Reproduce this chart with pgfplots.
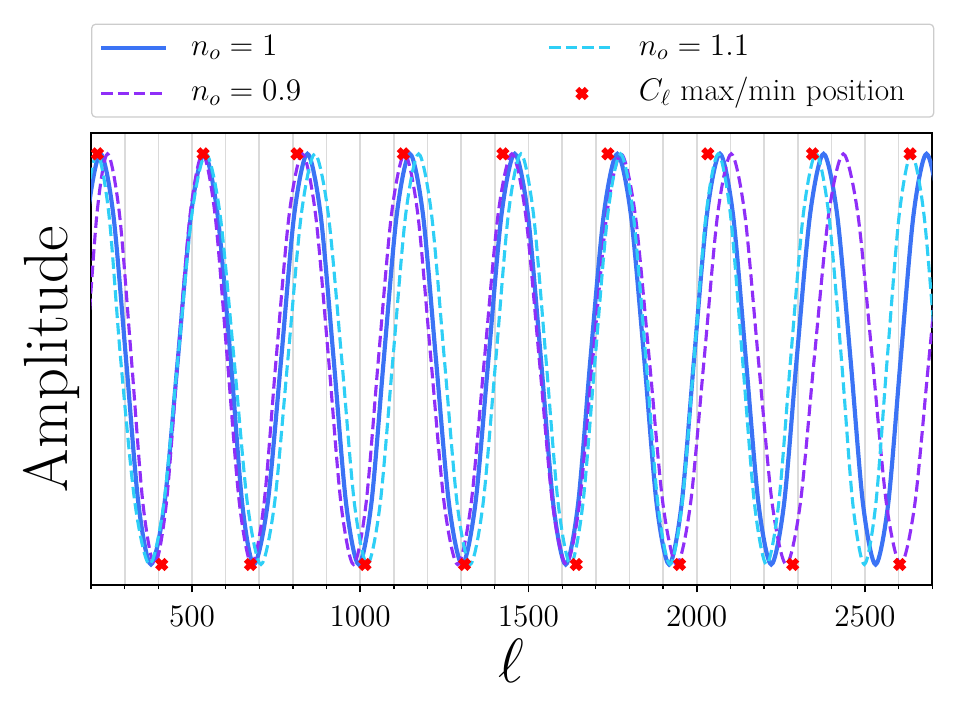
\RequirePackage{fix-cm}
\documentclass[border=0pt]{standalone}
\usepackage{fontspec}
\usepackage{pgfplots}
\pgfplotsset{compat=1.18}

\definecolor{nblue}{HTML}{3B73F5}
\definecolor{npurple}{HTML}{8F2EF8}
\definecolor{ncyan}{HTML}{2ECFF6}

\pgfplotsset{
  linelegend/.style={legend image code/.code={\draw[##1] (0pt,0pt) -- (31.2pt,0pt);}},
  marklegend/.style={legend image code/.code={\draw[##1] plot coordinates {(15.6pt,0pt)};}},
}

\begin{document}
\begin{tikzpicture}
\path[use as bounding box] (0,0) rectangle (460.8pt,345.6pt);
\begin{axis}[
  at={(43.7pt,64.8pt)}, anchor=south west,
  scale only axis, width=403.8pt, height=216.8pt,
  xmin=200, xmax=2700, ymin=-1.1, ymax=1.1,
  xtick={500,1000,1500,2000,2500},
  minor xtick={200,300,...,2700},
  ytick=\empty,
  scaled x ticks=false,
  /pgf/number format/1000 sep={},
  xtick pos=left,
  tick align=outside,
  major tick length=3.5pt, minor tick length=2pt,
  major tick style={line width=0.8pt, black},
  minor tick style={line width=0.6pt, black},
  xmajorgrids, xminorgrids,
  major grid style={gray!28, line width=0.8pt},
  minor grid style={gray!28, line width=0.8pt},
  axis line style={line width=0.8pt},
  xticklabel style={font=\fontsize{15}{17}\selectfont, anchor=north, inner sep=0pt, yshift=-6.5pt},
  xlabel={$\ell$},
  xlabel style={at={(axis description cs:0.5,-0.118)}, anchor=north, inner sep=0pt, font=\fontsize{30}{34}\selectfont},
  ylabel={Amplitude},
  ylabel style={at={(axis description cs:-0.013,0.5)}, anchor=south, inner sep=0pt, font=\fontsize{30}{34}\selectfont},
  legend columns=2,
  legend cell align=left,
  legend style={
    at={(axis description cs:0,1)}, anchor=south west, yshift=7.5pt,
    draw=black!20, rounded corners=2pt, fill=white, line width=0.6pt,
    font=\fontsize{15}{18}\selectfont,
    inner xsep=3.5pt, inner ysep=3.8pt, row sep=7pt,
    nodes={inner sep=0pt, text height=11pt, text depth=4pt},
    /tikz/every odd column/.append style={column sep=11pt},
    /tikz/every even column/.append style={column sep=33.3pt},
  },
]

% n_o = 1
\addplot[nblue, line width=2pt, smooth, forget plot] coordinates {
(153,0) (190.5,0.7071) (228,1) (266,0.7071) (304,0) (341,-0.7071) (378,-1) (418,-0.7071)
(458,0) (497.25,0.7071) (536.5,1) (575.75,0.7071) (615,0) (649.5,-0.7071) (684,-1) (724.5,-0.7071)
(765,0) (804,0.7071) (843,1) (882,0.7071) (921,0) (958.25,-0.7071) (995.5,-1) (1032.75,-0.7071)
(1070,0) (1108.75,0.7071) (1147.5,1) (1186.25,0.7071) (1225,0) (1264,-0.7071) (1303,-1) (1342,-0.7071)
(1381,0) (1420,0.7071) (1459,1) (1498,0.7071) (1537,0) (1573.75,-0.7071) (1610.5,-1) (1647.25,-0.7071)
(1684,0) (1724,0.7071) (1764,1) (1804,0.7071) (1844,0) (1881,-0.7071) (1918,-1) (1955,-0.7071)
(1992,0) (2030.5,0.7071) (2069,1) (2107.5,0.7071) (2146,0) (2183.75,-0.7071) (2221.5,-1) (2259.25,-0.7071)
(2297,0) (2337,0.7071) (2377,1) (2417,0.7071) (2457,0) (2494.25,-0.7071) (2531.5,-1) (2568.75,-0.7071)
(2606,0) (2644.5,0.7071) (2683,1) (2721.5,0.7071) (2760,0)
};

% n_o = 0.9
\addplot[npurple, line width=1.5pt, dash pattern=on 5.5pt off 2.4pt, smooth, forget plot] coordinates {
(186,0) (217.5,0.7071) (249,1) (284.5,0.7071) (320,0) (354.5,-0.7071) (389,-1) (423.5,-0.7071)
(458,0) (494.75,0.7071) (531.5,1) (568.25,0.7071) (605,0) (641.25,-0.7071) (677.5,-1) (713.75,-0.7071)
(750,0) (789,0.7071) (828,1) (867,0.7071) (906,0) (943,-0.7071) (980,-1) (1017,-0.7071)
(1054,0) (1093,0.7071) (1132,1) (1171,0.7071) (1210,0) (1249.75,-0.7071) (1289.5,-1) (1329.25,-0.7071)
(1369,0) (1409.75,0.7071) (1450.5,1) (1491.25,0.7071) (1532,0) (1571.75,-0.7071) (1611.5,-1) (1651.25,-0.7071)
(1691,0) (1733,0.7071) (1775,1) (1817,0.7071) (1859,0) (1899.75,-0.7071) (1940.5,-1) (1981.25,-0.7071)
(2022,0) (2062.25,0.7071) (2102.5,1) (2142.75,0.7071) (2183,0) (2224.5,-0.7071) (2266,-1) (2307.5,-0.7071)
(2349,0) (2392.25,0.7071) (2435.5,1) (2478.75,0.7071) (2522,0) (2564,-0.7071) (2606,-1) (2648,-0.7071)
(2690,0) (2734,0.7071) (2778,1)
};

% n_o = 1.1
\addplot[ncyan, line width=1.5pt, dash pattern=on 5.5pt off 2.4pt, smooth, forget plot] coordinates {
(146,0) (182,0.7071) (218,1) (253,0.7071) (288,0) (331,-0.7071) (374,-1) (416,-0.7071)
(458,0) (499.75,0.7071) (541.5,1) (583.25,0.7071) (625,0) (665,-0.7071) (705,-1) (745,-0.7071)
(785,0) (825,0.7071) (865,1) (905,0.7071) (945,0) (983,-0.7071) (1021,-1) (1059,-0.7071)
(1097,0) (1135.25,0.7071) (1173.5,1) (1211.75,0.7071) (1250,0) (1288.25,-0.7071) (1326.5,-1) (1364.75,-0.7071)
(1403,0) (1440.25,0.7071) (1477.5,1) (1514.75,0.7071) (1552,0) (1588.5,-0.7071) (1625,-1) (1661.5,-0.7071)
(1698,0) (1735.75,0.7071) (1773.5,1) (1811.25,0.7071) (1849,0) (1884.75,-0.7071) (1920.5,-1) (1956.25,-0.7071)
(1992,0) (2028,0.7071) (2064,1) (2100,0.7071) (2136,0) (2171.75,-0.7071) (2207.5,-1) (2243.25,-0.7071)
(2279,0) (2316.75,0.7071) (2354.5,1) (2392.25,0.7071) (2430,0) (2464,-0.7071) (2498,-1) (2532,-0.7071)
(2566,0) (2602,0.7071) (2638,1) (2675,0.7071) (2712,0) (2746,-0.7071) (2780,-1)
};

% positions of the C_ell maxima and minima
\addplot[only marks, mark=x, red, mark size=3.2pt, mark options={line width=2.6pt}, forget plot] coordinates {
(219,1) (533,1) (812,1) (1128,1) (1424,1) (1736,1) (2033,1) (2344,1) (2634,1)
(410,-1) (674,-1) (1014,-1) (1310,-1) (1642,-1) (1949,-1) (2285,-1) (2603,-1)
};

\addlegendimage{linelegend, nblue, line width=2pt}
\addlegendentry{\makebox[138pt][l]{$n_o = 1$}}
\addlegendimage{linelegend, ncyan, line width=1.5pt, dash pattern=on 5.5pt off 2.4pt}
\addlegendentry{\makebox[138pt][l]{$n_o = 1.1$}}
\addlegendimage{linelegend, npurple, line width=1.5pt, dash pattern=on 5.5pt off 2.4pt}
\addlegendentry{\makebox[138pt][l]{$n_o = 0.9$}}
\addlegendimage{marklegend, only marks, mark=x, red, mark size=3.2pt, mark options={line width=2.6pt}}
\addlegendentry{\makebox[138pt][l]{$C_\ell$ max/min position}}
\end{axis}
\end{tikzpicture}
\end{document}
